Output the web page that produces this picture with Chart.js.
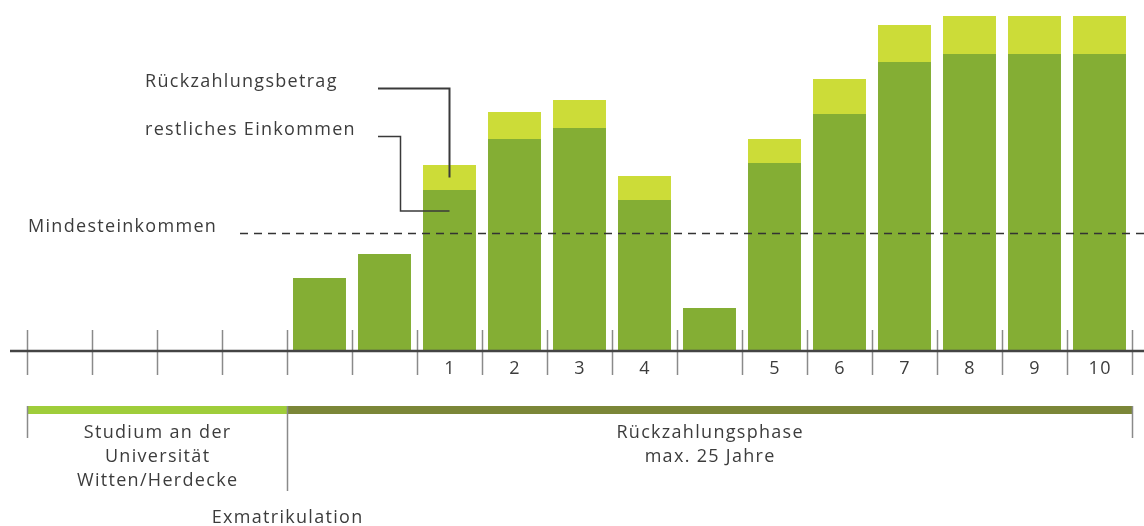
<!DOCTYPE html>
<html>
<head>
<meta charset="utf-8">
<script src="https://cdn.jsdelivr.net/npm/chart.js@4.4.1/dist/chart.umd.min.js"></script>
<style>
  html, body { margin: 0; padding: 0; background: #fff; }
  #wrap { width: 1144px; height: 526px; position: relative; }
</style>
</head>
<body>
<div id="wrap"><canvas id="myChart"></canvas></div>
<script>
// one slot per year, numbers only for repayment years
const slotLabels = ['', '', '', '', '', '', '1', '2', '3', '4', '', '5', '6', '7', '8', '9', '10'];
// restliches Einkommen (dark part)
const restEinkommen = [0, 0, 0, 0, 73, 97, 161, 212, 223, 151, 43, 188, 237, 289, 297, 297, 297];
// Rückzahlungsbetrag (light part on top)
const rueckzahlung = [0, 0, 0, 0, 0, 0, 25, 27, 28, 24, 0, 24, 35, 37, 38, 38, 38];
const mindesteinkommen = 118;
const yMax = 351;

// phases below the axis: [first slot, last slot + 1]
const studiumSlots = [0, 4];
const phaseSlots = [4, 17];

const FONT = '18px "Open Sans", sans-serif';
const SPACING = 1.3;
const TEXT = '#3c3c3c';
const DARK = '#84ae34';
const LIGHT = '#ccdc38';

const ctx = document.getElementById('myChart').getContext('2d');

// left edge of a slot, taken from the category scale
function slotEdge(x, i) {
  const step = x.getPixelForValue(1) - x.getPixelForValue(0);
  return x.getPixelForValue(i) - step / 2;
}

function line(c, pts, color, width, dash) {
  c.save();
  c.strokeStyle = color;
  c.lineWidth = width;
  c.setLineDash(dash || []);
  c.beginPath();
  pts.forEach((p, i) => (i ? c.lineTo(p[0], p[1]) : c.moveTo(p[0], p[1])));
  c.stroke();
  c.restore();
}

function text(c, str, x, y, align) {
  c.save();
  c.font = FONT;
  c.fillStyle = TEXT;
  c.letterSpacing = SPACING + 'px';
  c.textBaseline = 'middle';
  c.textAlign = 'left';
  const w = c.measureText(str).width - SPACING;
  let left = x;
  if (align !== 'left') left = x - w / 2;
  c.fillText(str, left, y);
  c.restore();
}

const axisPlugin = {
  id: 'axisPlugin',
  beforeDatasetsDraw(chart) {
    const c = chart.ctx;
    const x = chart.scales.x;
    const base = chart.scales.y.getPixelForValue(0);
    // ticks at slot boundaries
    for (let i = 0; i <= slotLabels.length; i++) {
      const px = Math.round(slotEdge(x, i)) + 0.5;
      line(c, [[px, base - 21], [px, base + 24]], '#8a8a8a', 1.5);
    }
  },
  afterDatasetsDraw(chart) {
    const c = chart.ctx;
    const x = chart.scales.x;
    const y = chart.scales.y;
    const base = y.getPixelForValue(0);
    const W = chart.width;

    // axis line
    line(c, [[10, base], [W, base]], '#444', 2.5);

    // year numbers
    slotLabels.forEach((l, i) => {
      if (l) text(c, l, x.getPixelForValue(i), base + 18);
    });

    // Mindesteinkommen
    const yMin = Math.round(y.getPixelForValue(mindesteinkommen)) + 0.5;
    line(c, [[240, yMin], [W, yMin]], '#333', 1.5, [8, 6]);
    text(c, 'Mindesteinkommen', 28, yMin - 7, 'left');

    // legend with leader lines into the first repayment bar
    const i1 = slotLabels.indexOf('1');
    const bx = x.getPixelForValue(i1);
    const lightMid = y.getPixelForValue(restEinkommen[i1] + rueckzahlung[i1] / 2);
    const darkPt = y.getPixelForValue(restEinkommen[i1]) + 21;
    text(c, 'Rückzahlungsbetrag', 145, 82, 'left');
    text(c, 'restliches Einkommen', 145, 130, 'left');
    line(c, [[378, 88.5], [bx, 88.5], [bx, lightMid]], '#3a3a3a', 2);
    line(c, [[378, 136.5], [400.5, 136.5], [400.5, darkPt], [bx, darkPt]], '#3a3a3a', 1.5);

    // phase timeline
    const ty = base + 59;
    const s0 = slotEdge(x, studiumSlots[0]);
    const s1 = slotEdge(x, studiumSlots[1]);
    const p1 = slotEdge(x, phaseSlots[1]);
    c.save();
    c.fillStyle = '#9fcd3a';
    c.fillRect(s0, ty - 4, s1 - s0, 8);
    c.fillStyle = '#7b8638';
    c.fillRect(s1, ty - 4, p1 - s1, 8);
    c.restore();
    line(c, [[s0 + 0.5, ty - 4], [s0 + 0.5, ty + 28]], '#8a8a8a', 1.5);
    line(c, [[s1 + 0.5, ty - 4], [s1 + 0.5, ty + 81]], '#8a8a8a', 1.5);
    line(c, [[p1 + 0.5, ty - 4], [p1 + 0.5, ty + 28]], '#8a8a8a', 1.5);

    const sc = (s0 + s1) / 2;
    text(c, 'Studium an der', sc, ty + 23);
    text(c, 'Universität', sc, ty + 47);
    text(c, 'Witten/Herdecke', sc, ty + 71);
    const pc = (s1 + p1) / 2;
    text(c, 'Rückzahlungsphase', pc, ty + 23);
    text(c, 'max. 25 Jahre', pc, ty + 47);
    text(c, 'Exmatrikulation', s1, ty + 108);
  },
};

function createDataset(label, data, color) {
  return {
    label,
    data,
    backgroundColor: color,
    borderWidth: 0,
    barPercentage: 0.815,
    categoryPercentage: 1,
    stack: 'a',
  };
}

new Chart(ctx, {
  type: 'bar',
  data: {
    labels: slotLabels,
    datasets: [
      createDataset('restliches Einkommen', restEinkommen, DARK),
      createDataset('Rückzahlungsbetrag', rueckzahlung, LIGHT),
    ],
  },
  options: {
    responsive: true,
    maintainAspectRatio: false,
    animation: false,
    layout: { padding: { left: 27, right: 12, top: 0, bottom: 175 } },
    plugins: {
      legend: { display: false },
      tooltip: { enabled: false },
      title: { display: false },
    },
    scales: {
      x: { display: false, stacked: true },
      y: { display: false, stacked: true, min: 0, max: yMax },
    },
  },
  plugins: [axisPlugin],
});
</script>
</body>
</html>
